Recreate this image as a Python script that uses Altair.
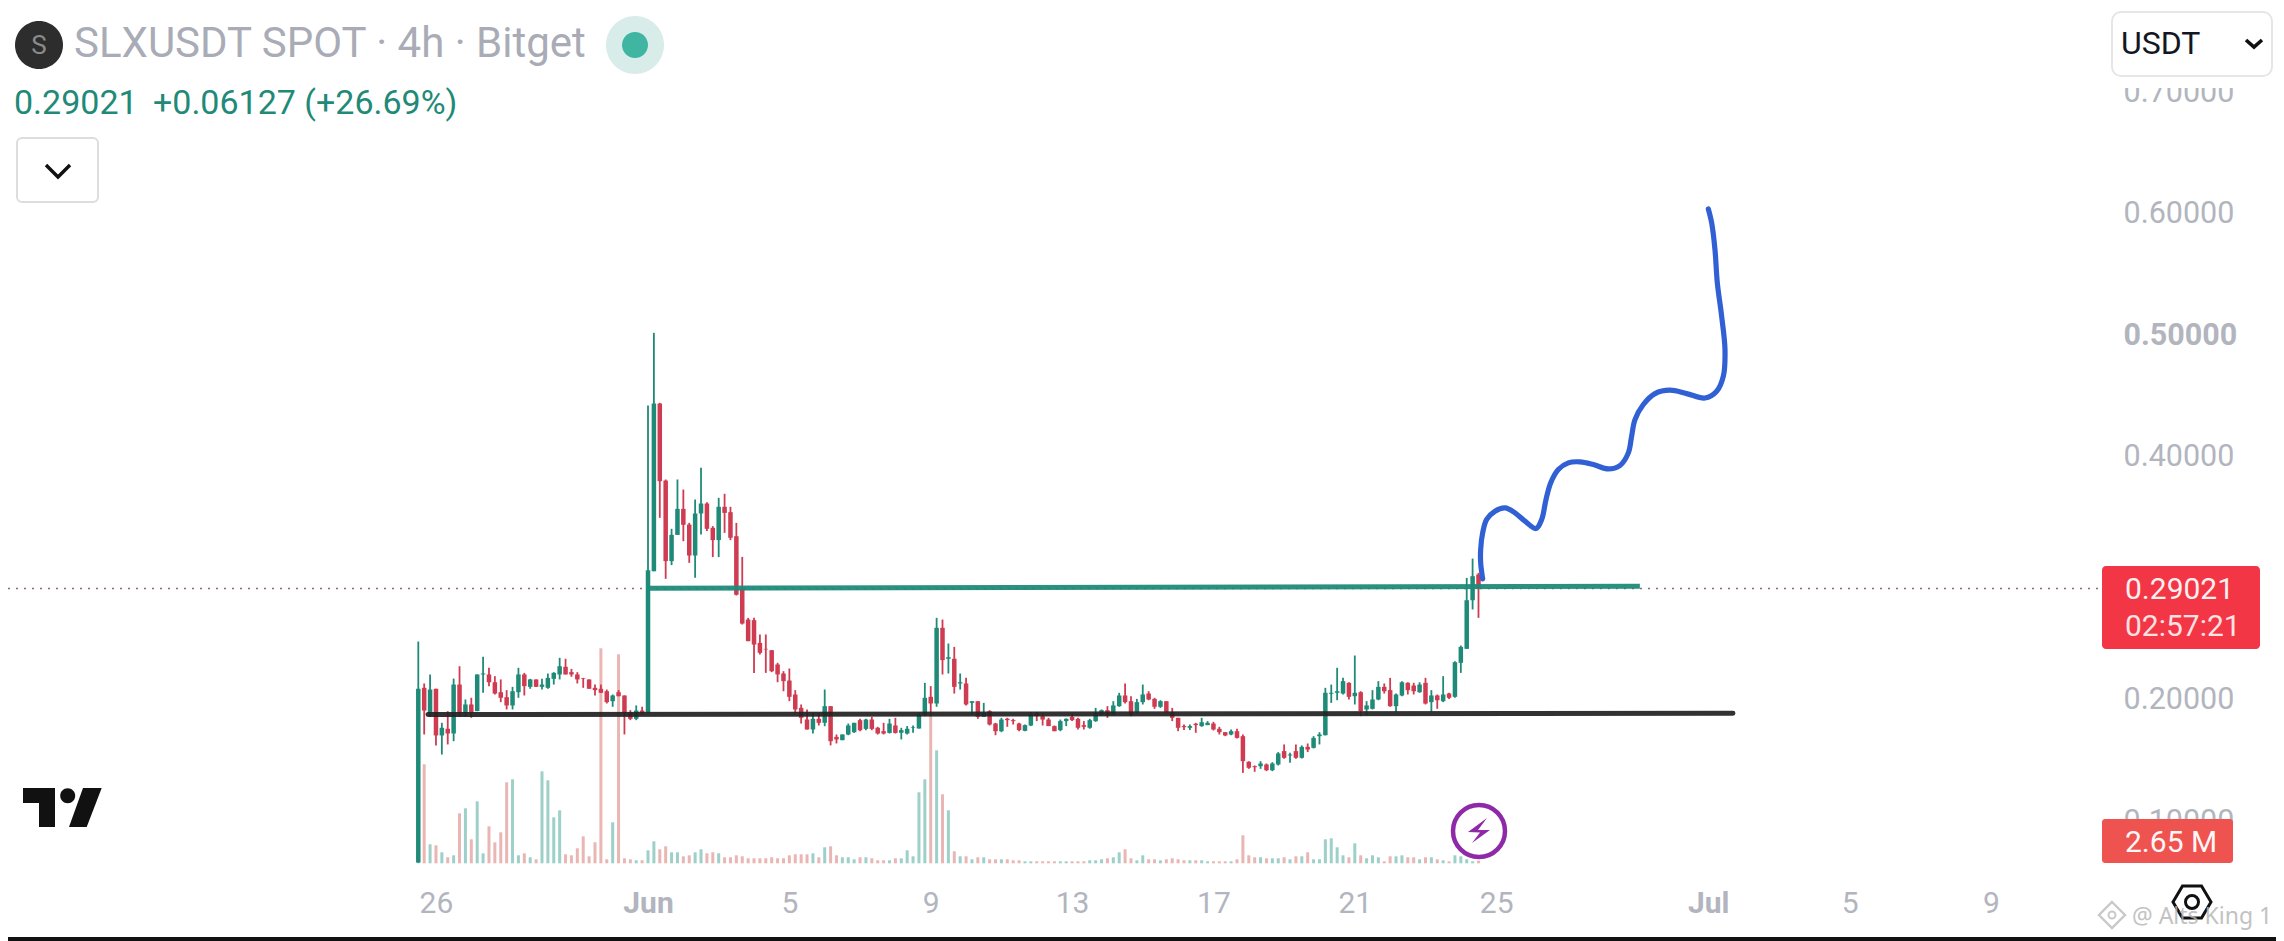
import altair as alt
import pandas as pd

# ---------- candle data (4h bars, index 39 = 1 June) ----------
directions = ("GRGRGRGRGR" "GGRRRRGGRG" "RGGGGRRRRR" "RRRGRRRGRG" "GRRGGRRGGR" "RGRRRRRRRR"
              "RRRRRRRGRG" "RRGGGRGRRR" "GRGGGGGRGR" "GRGRGRGRRG" "RRRGGRRRRG" "GRRRGGGRGG"
              "RRGGRRGRRR" "RGRGGRRRGR" "RRRGRGGRGR" "GRGGGGGGRG" "RGGGRRGGRR" "GRGRGRGGGG" "R")

highs = [.2465,.212,.2194,.2076,.1796,.1892,.216,.2262,.1988,.2002,
 .2194,.2339,.2249,.218,.2153,.2065,.2092,.2249,.2207,.2158,
 .2153,.2158,.2202,.2213,.2331,.2323,.224,.2213,.2166,.2153,
 .2111,.2111,.207,.2029,.2065,.2021,.19,.1939,.1928,.4407,
 .5006,.443,.3799,.3393,.3799,.3716,.3442,.3634,.3895,.3612,
 .3415,.3648,.3681,.3574,.3442,.3162,.266,.266,.2523,.2523,
 .2394,.229,.2221,.2243,.2065,.1947,.1906,.1878,.1878,.207,
 .1933,.17,.17,.179,.1796,.1829,.1829,.1845,.1763,.1796,
 .1829,.1837,.1755,.1769,.1774,.1878,.2125,.2098,.266,.2646,
 .2449,.2421,.2202,.2166,.1974,.1974,.196,.19,.1796,.1837,
 .1837,.1829,.1796,.1782,.1884,.1884,.1873,.1837,.1774,.1823,
 .1832,.1873,.1837,.181,.1829,.1919,.1906,.1933,.1974,.2043,
 .212,.2015,.1993,.2111,.2056,.2002,.1982,.1974,.1919,.1837,
 .1782,.1782,.1796,.1837,.181,.1804,.1763,.1719,.1741,.1747,
 .17,.148,.1445,.148,.1461,.1472,.1555,.1618,.1549,.1618,
 .161,.1626,.1686,.1719,.2084,.2111,.2249,.2166,.213,.235,
 .2056,.1974,.2065,.2139,.212,.2166,.2037,.2139,.213,.2125,
 .213,.2166,.2065,.2029,.218,.2043,.2303,.2432,.2989,.3148,
 .303]

body_tops = [.2076,.2084,.207,.2076,.1755,.1747,.2111,.2111,.1947,.1947,
 .2194,.2202,.2194,.213,.2048,.2007,.2056,.2194,.2194,.2153,
 .2153,.2111,.2166,.2207,.2262,.2257,.2213,.2194,.2163,.2153,
 .2084,.2076,.2056,.2021,.2048,.2021,.1878,.1897,.1897,.3052,
 .4424,.4424,.379,.3343,.3557,.3557,.3428,.3519,.3601,.3601,
 .3401,.3574,.3574,.353,.3332,.2907,.2646,.2641,.2454,.2405,
 .2394,.2276,.2202,.2144,.2029,.1919,.1823,.1829,.1829,.1933,
 .1933,.168,.17,.1774,.1796,.1818,.1823,.1823,.1755,.1727,
 .179,.1774,.1736,.1747,.176,.1864,.2002,.201,.2578,.2578,
 .2336,.2323,.213,.212,.1974,.1974,.1878,.1892,.179,.1823,
 .1829,.1818,.179,.1777,.1864,.1873,.1851,.1823,.1769,.181,
 .1829,.1845,.1829,.1777,.1818,.1873,.19,.19,.1939,.2021,
 .2021,.1974,.1966,.2029,.2037,.1993,.1974,.1974,.1884,.1837,
 .1769,.1769,.1788,.1801,.1796,.179,.1747,.1719,.1727,.1727,
 .1686,.1475,.1439,.1461,.1453,.1461,.1544,.1563,.1535,.1563,
 .1598,.1598,.1672,.17,.2043,.2043,.2056,.2139,.2125,.2043,
 .2048,.1939,.1988,.2092,.2092,.2065,.2029,.213,.2125,.2103,
 .2111,.2125,.2021,.2021,.2029,.2037,.2295,.2421,.2805,.3003,
 .3017]

body_bottoms = [.0646,.1897,.1878,.1692,.1692,.1708,.1708,.1878,.1878,.1878,
 .1892,.2194,.213,.2037,.2002,.1939,.1939,.2048,.2098,.2092,
 .2092,.2092,.2084,.2158,.2194,.2194,.2194,.2153,.2158,.2076,
 .2065,.2043,.1966,.1974,.2015,.1878,.1829,.1829,.1878,.188,
 .3044,.3785,.3127,.3127,.3343,.3426,.3173,.3173,.3519,.3393,
 .33,.33,.3524,.3319,.285,.2613,.2468,.244,.2372,.24,
 .2221,.2194,.2139,.201,.1906,.1837,.1741,.1741,.1796,.1796,
 .1645,.1659,.1653,.17,.1719,.1735,.1746,.1746,.1708,.1708,
 .1713,.1713,.1714,.1708,.1755,.1749,.1864,.1955,.1955,.2312,
 .2323,.2092,.212,.1947,.196,.1845,.1845,.1782,.1727,.1727,
 .1818,.181,.1736,.173,.1774,.1851,.1823,.1769,.1727,.1736,
 .181,.1818,.1755,.1763,.1755,.181,.1864,.1856,.1864,.1933,
 .1966,.1864,.1884,.1966,.1988,.1928,.1928,.1884,.1837,.1755,
 .176,.1755,.1777,.1769,.1777,.1741,.1719,.1692,.17,.1672,
 .148,.1426,.1431,.1439,.1406,.1406,.1453,.1508,.1527,.1508,
 .1508,.1576,.159,.1686,.1694,.2035,.2043,.2037,.201,.2015,
 .1892,.1906,.1911,.1988,.2056,.1933,.1933,.2021,.2065,.2056,
 .2048,.1955,.1966,.1982,.1974,.2002,.201,.229,.2405,.2805,
 .2902]

lows = [.0646,.17,.1845,.161,.1535,.1618,.1645,.1845,.1845,.1837,
 .1892,.2043,.2098,.2029,.1966,.1906,.1906,.2002,.2021,.2076,
 .209,.207,.2076,.2111,.2153,.2194,.2175,.212,.2084,.2076,
 .2021,.2043,.1955,.1928,.2015,.17,.1818,.1818,.1864,.188,
 .3044,.3483,.2981,.3094,.3343,.3291,.3113,.299,.3346,.3374,
 .316,.316,.336,.33,.2844,.2605,.2468,.2207,.2358,.2207,
 .2213,.213,.2056,.1974,.1878,.179,.1741,.1708,.1774,.1768,
 .161,.1626,.1653,.1694,.1713,.1727,.1735,.1735,.17,.17,
 .1708,.1708,.1659,.17,.1714,.1749,.1851,.1851,.1928,.2194,
 .2202,.2037,.207,.1939,.1864,.1829,.1845,.1774,.1694,.1719,
 .1763,.1782,.1727,.1727,.1769,.181,.1774,.1769,.1727,.1727,
 .1769,.181,.1741,.1741,.1747,.1804,.1856,.1837,.1856,.1928,
 .1955,.1851,.1878,.1947,.1982,.1911,.1919,.1878,.181,.1727,
 .1736,.1736,.1714,.1763,.1777,.1733,.17,.1686,.1694,.1667,
 .1384,.1417,.1393,.1417,.1398,.1398,.1445,.15,.1467,.15,
 .1502,.1555,.1585,.1618,.1692,.196,.1982,.2029,.1988,.1947,
 .1851,.1856,.1906,.1982,.2037,.1928,.1884,.2015,.2029,.2029,
 .2043,.1947,.1884,.1911,.1966,.1993,.2002,.2207,.2405,.2729,
 .266]

volumes_m = [100,99,19,18,11,6,8,50,55,24,
 62,10,37,21,31,81,84,8,10,6,
 4,92,83,46,53,9,8,15,27,7,
 21,215,4,41,209,5,4,3,3,13,
 22,14,17,11,11,7,8,11,14,10,
 11,10,6,6,8,7,5,5,5,5,
 6,5,5,8,9,9,9,10,6,16,
 17,8,6,6,4,6,6,5,3,3,
 3,5,5,13,7,71,84,148,113,69,
 53,12,7,7,4,6,6,4,4,4,
 4,3,3,2,2,2,2,2,2,2,
 2,2,2,2,3,3,4,5,6,11,
 14,5,3,8,4,4,3,4,5,4,
 3,3,3,3,2,2,2,2,2,4,
 28,8,6,6,5,5,5,6,4,7,
 7,11,4,4,24,25,16,8,6,20,
 8,5,8,6,2,7,7,8,6,6,
 4,6,6,4,3,2,8,7,4,2,
 2.65]

# ---------- hand-drawn lines ----------
green_line_idx = [39, 207.4]
green_line_price = [.2904, .292]
black_line_idx = [1.65, 223.2]
black_line_price = [.1864, .1875]
blue_idx = [180.71,180.37,180.37,180.71,181.39,182.8,184.5,186.2,187.9,189.76,190.73,191.46,192.25,
            193.55,195.25,197.23,199.5,202.04,204.02,205.44,206.0,206.57,207.99,209.97,212.51,215.34,
            218.46,220.44,221.57,221.85,221.28,220.55,220.15,219.59,219.02]
blue_price = [.2981,.3113,.3223,.336,.347,.3538,.3565,.3524,.3456,.3395,.347,.3634,.3771,
              .3881,.3936,.3944,.3922,.3886,.3914,.4018,.4155,.4292,.4416,.4506,.4534,.4506,
              .447,.4525,.4649,.4868,.5143,.5417,.5691,.5911,.6026]

last_price = 0.29021
x_ticks = [3, 39, 63, 87, 111, 135, 159, 183, 219, 243, 267]
x_labels = ["26", "Jun", "5", "9", "13", "17", "21", "25", "Jul", "5", "9"]
y_ticks = [0.1, 0.2, 0.4, 0.5, 0.6, 0.7]

# ---------- frames ----------
candles = pd.DataFrame({
    "i": list(range(len(highs))),
    "high": highs, "low": lows, "top": body_tops, "bottom": body_bottoms,
    "vol": volumes_m, "dir": list(directions),
})
green_df = pd.DataFrame({"i": green_line_idx, "p": green_line_price})
black_df = pd.DataFrame({"i": black_line_idx, "p": black_line_price})
blue_df = pd.DataFrame({"i": blue_idx, "p": blue_price, "n": list(range(len(blue_idx)))})
price_df = pd.DataFrame({"p": [last_price], "i0": [-69.66], "i1": [285.9]})

W, H = 2268, 933
FONT = "Roboto"
GREY = "#b2b5be"
x_scale = alt.Scale(domain=[-69.66, 315.4], nice=False, zero=False)
y_scale = alt.Scale(domain=[0, 0.768], nice=False, zero=False)
v_scale = alt.Scale(domain=[-77.7, 855.3], nice=False, zero=False)
c_scale = alt.Scale(domain=["G", "R"], range=["#1f8a78", "#cf3b50"])
vc_scale = alt.Scale(domain=["G", "R"], range=["#9dd0c9", "#e9b6b4"])

labels_expr = "[" + ",".join(f"'{s}'" for s in x_labels) + "][indexof([" + ",".join(map(str, x_ticks)) + "],datum.value)]"
x_axis = alt.Axis(values=x_ticks, labelExpr=labels_expr, title=None, grid=False, domain=False, ticks=False,
                  orient="bottom", offset=-53, labelPadding=0, labelFont=FONT, labelFontSize=30,
                  labelColor=GREY, labelOverlap=False, labelFlush=False, labelBaseline="top",
                  labelFontWeight={"condition": {"test": "datum.value == 39 || datum.value == 219", "value": "bold"}, "value": "normal"})
y_axis = alt.Axis(values=y_ticks, format=".5f", title=None, grid=False, domain=False, ticks=False,
                  orient="right", offset=-153, labelPadding=0, labelFont=FONT, labelFontSize=30.5,
                  labelColor=GREY, labelOverlap=False, labelFlush=False, labelBound=False, labelAlign="left",
                  labelOffset=1.5,
                  labelFontWeight={"condition": {"test": "datum.value == 0.5", "value": "bold"}, "value": "normal"})


def X(field):
    return alt.X(field, type="quantitative", scale=x_scale, axis=x_axis)


def Y(field, axis=None):
    return alt.Y(field, type="quantitative", scale=y_scale, axis=axis)


blank = alt.Data(values=[{"a": 1}])


def text(s, x, y, size, color, weight="normal", align="left", font=FONT, opacity=1):
    return alt.Chart(blank).mark_text(text=s, align=align, baseline="middle", font=font, fontSize=size,
                                      color=color, fontWeight=weight, opacity=opacity).encode(
        x=alt.value(x - 8), y=alt.value(y - 8))


def box(x0, x1, y0, y1, fill, stroke=None, radius=0, sw=2):
    kw = {"fill": fill, "cornerRadius": radius}
    if stroke:
        kw.update(stroke=stroke, strokeWidth=sw)
    return alt.Chart(blank).mark_rect(**kw).encode(
        x=alt.value(x0 - 8), x2=alt.value(x1 - 8), y=alt.value(y0 - 8), y2=alt.value(y1 - 8))


def shape(path, x, y, fill=None, stroke=None, sw=0):
    # a custom symbol of size 4 draws its path at one unit per pixel
    kw = {"shape": path, "size": 4, "filled": fill is not None, "opacity": 1}
    if fill:
        kw["fill"] = fill
    if stroke:
        kw.update(stroke=stroke, strokeWidth=sw)
    else:
        kw["strokeWidth"] = 0
    return alt.Chart(blank).mark_point(**kw).encode(x=alt.value(x - 8), y=alt.value(y - 8))


def circle(r):
    return f"M{-r},0A{r},{r} 0 1 1 {r},0A{r},{r} 0 1 1 {-r},0Z"


volume = alt.Chart(candles).mark_rule(strokeWidth=3).encode(
    x=X("i"), y=alt.Y("vol:Q", scale=v_scale, axis=None), y2=alt.datum(0),
    color=alt.Color("dir:N", scale=vc_scale, legend=None))
dotted = alt.Chart(price_df).mark_rule(strokeWidth=1.5, strokeDash=[2, 6], color="#8d6a6e").encode(
    x=alt.X("i0:Q", scale=x_scale, axis=x_axis), x2="i1:Q", y=Y("p", y_axis))
wick = alt.Chart(candles).mark_rule(strokeWidth=1.8).encode(
    x=X("i"), y=Y("high"), y2="low:Q", color=alt.Color("dir:N", scale=c_scale, legend=None))
body = alt.Chart(candles).mark_rule(strokeWidth=4.5).encode(
    x=X("i"), y=Y("top"), y2="bottom:Q", color=alt.Color("dir:N", scale=c_scale, legend=None))
black = alt.Chart(black_df).mark_line(color="#222222", strokeWidth=5, strokeCap="round", opacity=0.93).encode(
    x=X("i"), y=Y("p"))
green = alt.Chart(green_df).mark_line(color="#1f8a78", strokeWidth=5, opacity=0.95).encode(
    x=X("i"), y=Y("p"))
blue = alt.Chart(blue_df).mark_line(color="#3160d4", strokeWidth=5.2, strokeCap="round", strokeJoin="round",
                                    interpolate="catmull-rom").encode(
    x=X("i"), y=Y("p"), order="n:Q")

chrome = [
    # header
    shape(circle(24), 39, 45, fill="#2d2d2d"),
    text("S", 39, 46, 26, "#8b8b8b", align="center"),
    text("SLXUSDT SPOT · 4h · Bitget", 74, 44, 42, "#a9acb6"),
    shape(circle(29), 635, 45, fill="#d8ecea"),
    shape(circle(13), 635, 45, fill="#3fb5a2"),
    text("0.29021", 14, 104, 34, "#1f8a78"),
    text("+0.06127 (+26.69%)", 153, 104, 34, "#1f8a78"),
    box(17, 98, 138, 202, "#ffffff", "#dddddd", 5, 2),
    shape("M-12,-6L0,6L12,-6", 58, 171, stroke="#111111", sw=3.4),
    # currency selector, hiding the top of the highest price label
    box(2112, 2272, 12, 76, "#ffffff", "#e6e6e6", 9, 2),
    box(2110, 2274, 77, 88, "#ffffff"),
    text("USDT", 2121, 44, 32, "#131722"),
    shape("M-8,-4L0,3L8,-4", 2254, 44, stroke="#111111", sw=3.6),
    # price labels
    box(2102, 2260, 566, 649, "#f23645", radius=4),
    text("0.29021", 2125, 590, 30, "#ffffff", opacity=0.92),
    text("02:57:21", 2125, 627, 30, "#ffffff", opacity=0.85),
    box(2102, 2233, 819, 863, "#ef5350", radius=3),
    text("2.65 M", 2125, 843, 30, "#ffffff", opacity=0.95),
    # TradingView logo
    shape("M-40,-19L-8,-19L-8,20L-24,20L-24,-4L-40,-4Z", 63, 807, fill="#111111"),
    shape(circle(7.5), 67.7, 795.7, fill="#111111"),
    shape("M20,-19L38.7,-19L23.7,20L6,20Z", 63, 807, fill="#111111"),
    # lightning badge
    shape(circle(26), 1479, 831, stroke="#8e2aa8", sw=4.5),
    shape("M8,-13L-11,1L1,1.5L-7,12L11,-1L-1,-1Z", 1479, 831, fill="#8e2aa8"),
    # settings hexagon
    shape("M-19,0L-9.5,-16L9.5,-16L19,0L9.5,16L-9.5,16Z", 2192, 902, stroke="#111111", sw=3),
    shape(circle(6.5), 2192, 902, stroke="#111111", sw=3),
    # watermark
    shape("M0,-13L13,0L0,13L-13,0Z", 2112, 915, stroke="#c9c9c9", sw=2.4),
    shape(circle(3.5), 2112, 915, stroke="#c9c9c9", sw=2),
    text("@ Alts King 1", 2132, 917, 23, "#b4b4b4", font="Noto Sans", opacity=0.8),
    # screenshot edge
    box(8, 2276, 937, 945, "#111111"),
]

chart = alt.layer(volume, dotted, wick, body, black, green, blue, *chrome).resolve_scale(
    y="independent", color="independent"
).properties(width=W, height=H, padding=0, autosize="none", background="white").configure_view(stroke=None)

chart.save("out.html", embed_options={"renderer": "svg", "actions": False})
